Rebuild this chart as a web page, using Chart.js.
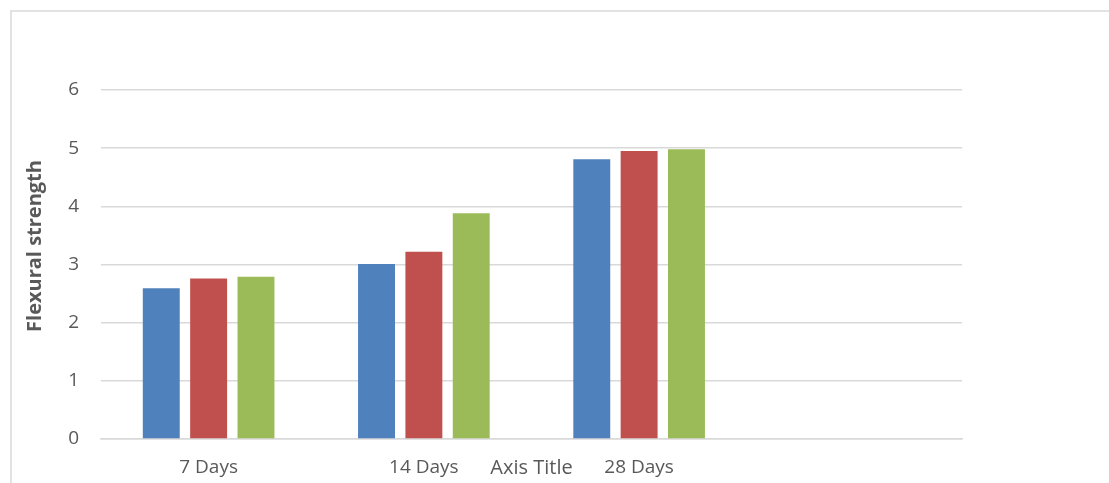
<!DOCTYPE html>
<html>
<head>
<meta charset="utf-8">
<script src="https://cdn.jsdelivr.net/npm/chart.js@4.4.1/dist/chart.umd.min.js"></script>
<style>
  html, body { margin: 0; padding: 0; background: #ffffff; }
  #wrap { width: 1109px; height: 483px; position: relative; }
</style>
</head>
<body>
<div id="wrap"><canvas id="c" width="1109" height="483"></canvas></div>
<script>
// Curing ages (the fourth slot is left empty)
const categories = ['7 Days', '14 Days', '28 Days', ''];
const series1 = [2.59, 3.01, 4.81, null];
const series2 = [2.76, 3.22, 4.95, null];
const series3 = [2.79, 3.88, 4.98, null];
const yTicks = [0, 1, 2, 3, 4, 5, 6];
const yTitle = 'Flexural strength';
const xTitle = 'Axis Title';

const FONT = '"Open Sans", "Liberation Sans", sans-serif';
const TEXT = '#595959';
const GRID = '#d9d9d9';

// Outer frame and the two axis titles
const decorations = {
  id: 'decorations',
  afterDraw(chart) {
    const ctx = chart.ctx;
    const area = chart.chartArea;
    ctx.save();
    ctx.strokeStyle = GRID;
    ctx.lineWidth = 1.5;
    ctx.beginPath();
    ctx.moveTo(11, chart.height);
    ctx.lineTo(11, 11);
    ctx.lineTo(chart.width, 11);
    ctx.stroke();

    ctx.fillStyle = TEXT;
    ctx.textAlign = 'center';
    ctx.textBaseline = 'middle';
    ctx.font = '20px ' + FONT;
    ctx.fillText(xTitle, (area.left + area.right) / 2, 468);

    ctx.translate(35, 246);
    ctx.rotate(-Math.PI / 2);
    ctx.font = 'bold 20px ' + FONT;
    ctx.fillText(yTitle, 0, 0);
    ctx.restore();
  }
};

new Chart(document.getElementById('c'), {
  type: 'bar',
  data: {
    labels: categories,
    datasets: [
      { label: 'Series 1', data: series1, backgroundColor: '#4F81BD' },
      { label: 'Series 2', data: series2, backgroundColor: '#C0504D' },
      { label: 'Series 3', data: series3, backgroundColor: '#9BBB59' }
    ]
  },
  options: {
    responsive: false,
    animation: false,
    categoryPercentage: 0.66,
    barPercentage: 0.78,
    layout: { padding: { top: 90, right: 147, left: 0, bottom: 0 } },
    plugins: { legend: { display: false }, tooltip: { enabled: false } },
    scales: {
      x: {
        grid: { display: false, drawTicks: false },
        border: { display: true, color: GRID, width: 1.5 },
        ticks: { color: TEXT, font: { family: FONT, size: 19 }, padding: 17, maxRotation: 0 },
        afterFit(scale) { scale.height = 44; }
      },
      y: {
        min: 0,
        max: 6,
        afterBuildTicks(scale) { scale.ticks = yTicks.map(v => ({ value: v })); },
        grid: { color: GRID, lineWidth: 1.5, drawTicks: false },
        border: { display: false },
        ticks: { color: TEXT, font: { family: FONT, size: 19 }, padding: 22 },
        afterFit(scale) { scale.width = 101; }
      }
    }
  },
  plugins: [decorations]
});
</script>
</body>
</html>
